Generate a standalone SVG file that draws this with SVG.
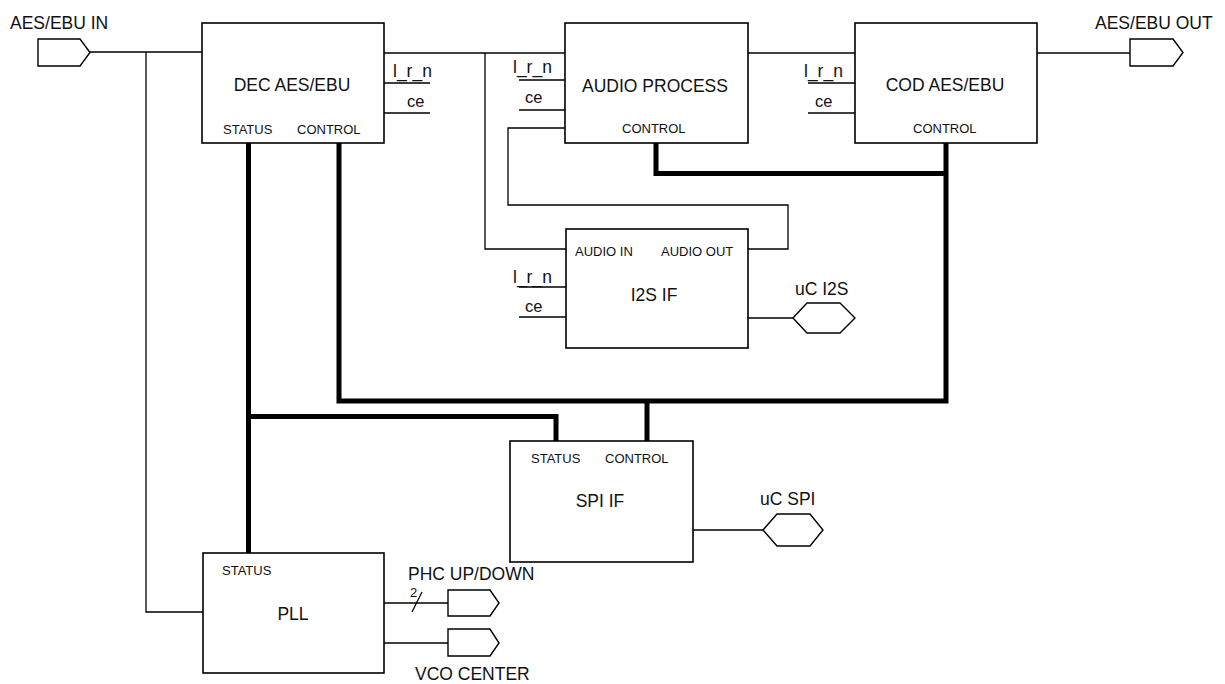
<svg xmlns="http://www.w3.org/2000/svg" width="1225" height="684" viewBox="0 0 1225 684">
<style>
.box{fill:#fff;stroke:#000;stroke-width:1.6}
.port{fill:#fff;stroke:#000;stroke-width:1.4}
.w{fill:none;stroke:#000;stroke-width:1.3}
.bus{fill:none;stroke:#000;stroke-width:5;stroke-linejoin:miter;stroke-linecap:butt}
text{font-family:"Liberation Sans",Arial,sans-serif;fill:#111}
.L{font-size:17.5px}
.M{font-size:16.5px}
.S{font-size:13px}
.c{text-anchor:middle}
</style>
<rect width="1225" height="684" fill="#fff"/>
<g id="connectors">
  <path class="w" d="M90 52H202"/>
  <path class="w" d="M146 52V612H203"/>
  <path class="w" d="M384 53H565"/>
  <path class="w" d="M485 53V249H566"/>
  <path class="w" d="M565 128H508V205H788V249H748"/>
  <path class="w" d="M748 53H855"/>
  <path class="w" d="M1037 53H1130"/>
  <path class="w" d="M384 83H430M384 113H430"/>
  <path class="w" d="M519 80H565M519 110H565"/>
  <path class="w" d="M808 83H855M808 113H855"/>
  <path class="w" d="M519 287H566M519 317H566"/>
  <path class="w" d="M748 318H793"/>
  <path class="w" d="M693 530H763"/>
  <path class="w" d="M384 603H448"/>
  <path class="w" d="M412 612L422 592"/>
  <path class="w" d="M384 643H448"/>
  <path class="bus" d="M248.5 143V553"/>
  <path class="bus" d="M248.5 416.5H556V441"/>
  <path class="bus" d="M339 143V401H946V143"/>
  <path class="bus" d="M647 401V441"/>
  <path class="bus" d="M656 143V173.5H946"/>
</g>
<g id="aes_in">
  <polygon class="port" points="38,39 80,39 90,52.5 80,66 38,66"/>
  <text class="L" x="10" y="29">AES/EBU IN</text>
</g>
<g id="aes_out">
  <polygon class="port" points="1130,39 1173,39 1183,52.5 1173,66 1130,66"/>
  <text class="L" x="1095" y="29">AES/EBU OUT</text>
</g>
<g id="dec">
  <rect class="box" x="202" y="23" width="182" height="120"/>
  <text class="L c" x="292" y="91">DEC AES/EBU</text>
  <text class="S" x="223" y="134">STATUS</text>
  <text class="S" x="297" y="134">CONTROL</text>
  <text class="L" x="393" y="77">l_r_n</text>
  <text class="M" x="407" y="107">ce</text>
</g>
<g id="audio_process">
  <rect class="box" x="565" y="23" width="183" height="120"/>
  <text class="L c" x="655" y="92">AUDIO PROCESS</text>
  <text class="S" x="622" y="133">CONTROL</text>
  <text class="L" x="513" y="73">l_r_n</text>
  <text class="M" x="525" y="103">ce</text>
</g>
<g id="cod">
  <rect class="box" x="855" y="23" width="182" height="120"/>
  <text class="L c" x="945" y="91">COD AES/EBU</text>
  <text class="S" x="913" y="133">CONTROL</text>
  <text class="L" x="804" y="77">l_r_n</text>
  <text class="M" x="815" y="107">ce</text>
</g>
<g id="i2s">
  <rect class="box" x="566" y="229" width="182" height="119"/>
  <text class="S" x="575" y="256">AUDIO IN</text>
  <text class="S" x="661" y="256">AUDIO OUT</text>
  <text class="L c" x="654" y="301">I2S IF</text>
  <text class="L" x="513" y="283">l_r_n</text>
  <text class="M" x="525" y="312">ce</text>
</g>
<g id="uc_i2s">
  <polygon class="port" points="793,318 807,303 840,303 855,318 840,333 807,333"/>
  <text class="L" x="795" y="295">uC I2S</text>
</g>
<g id="spi">
  <rect class="box" x="510" y="441" width="183" height="121"/>
  <text class="S" x="531" y="463">STATUS</text>
  <text class="S" x="605" y="463">CONTROL</text>
  <text class="L c" x="600" y="507">SPI IF</text>
</g>
<g id="uc_spi">
  <polygon class="port" points="763,530 777,514 810,514 823,530 810,546 777,546"/>
  <text class="L" x="760" y="505">uC SPI</text>
</g>
<g id="pll">
  <rect class="box" x="203" y="553" width="181" height="120"/>
  <text class="S" x="222" y="575">STATUS</text>
  <text class="L c" x="293" y="620">PLL</text>
</g>
<g id="phc">
  <polygon class="port" points="448,590 490,590 499,603 490,616 448,616"/>
  <text class="L" x="408" y="580">PHC UP/DOWN</text>
  <text class="S" x="410" y="597">2</text>
</g>
<g id="vco">
  <polygon class="port" points="448,629 490,629 499,643 490,656 448,656"/>
  <text class="L" x="415" y="680">VCO CENTER</text>
</g>
</svg>
